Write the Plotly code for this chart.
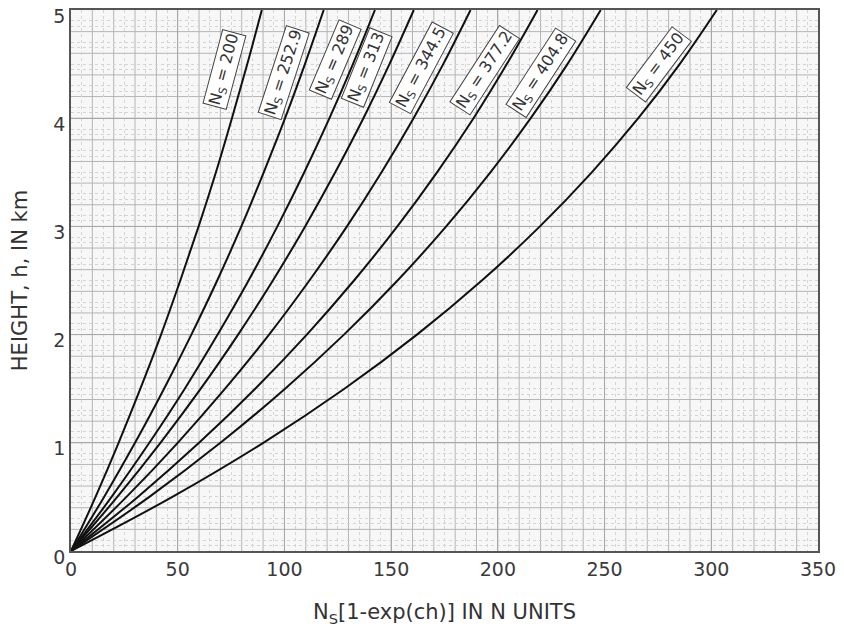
import plotly.graph_objects as go

# alturas (km) donde se leyeron las curvas
heights = [0, 0.5, 1, 1.5, 2, 2.5, 3, 3.5, 4, 4.5, 5]

ns_labels = ["200", "252.9", "289", "313", "344.5", "377.2", "404.8", "450"]
x_200 = [0, 11.5, 22.3, 32.5, 42.2, 51.2, 59.8, 67.9, 75.4, 82.6, 89.4]
x_2529 = [0, 15.5, 30.0, 43.6, 56.4, 68.5, 79.8, 90.3, 100.3, 109.6, 118.4]
x_289 = [0, 19.0, 36.7, 53.3, 68.7, 83.2, 96.7, 109.3, 121.1, 132.1, 142.4]
x_313 = [0, 21.7, 41.9, 60.8, 78.3, 94.6, 109.7, 123.8, 137.0, 149.2, 160.6]
x_3445 = [0, 26.0, 50.0, 72.2, 92.8, 111.7, 129.3, 145.5, 160.5, 174.4, 187.2]
x_3772 = [0, 31.3, 60.0, 86.3, 110.5, 132.6, 152.9, 171.5, 188.6, 204.2, 218.6]
x_4048 = [0, 36.7, 70.0, 100.3, 127.9, 153.0, 175.8, 196.5, 215.4, 232.6, 248.2]
x_450 = [0, 47.5, 90.1, 128.1, 162.1, 192.5, 219.7, 244.0, 265.8, 285.2, 302.6]
curves = [x_200, x_2529, x_289, x_313, x_3445, x_3772, x_4048, x_450]

# posicion y angulo de las etiquetas
label_x = [71.9, 99.8, 123.9, 138.5, 164.2, 193.8, 220.3, 275.3]
label_y = [4.45, 4.42, 4.54, 4.47, 4.47, 4.44, 4.42, 4.50]
label_angle = [-75, -72, -67, -68, -62, -57, -57, -53]

fig = go.Figure()
for xs in curves:
    fig.add_scatter(x=xs, y=heights, mode="lines", line_shape="spline",
                    line=dict(color="#111111", width=2), showlegend=False,
                    hoverinfo="skip")

for lab, lx, ly, ang in zip(ns_labels, label_x, label_y, label_angle):
    fig.add_annotation(x=lx, y=ly, text="N<sub>S</sub> = " + lab, showarrow=False,
                       textangle=ang, bgcolor="white", bordercolor="#444444",
                       borderwidth=1, borderpad=1,
                       font=dict(family="DejaVu Sans", size=16, color="#333333"))

axis_font = dict(family="DejaVu Sans", size=19, color="#3a3a3a")
title_font = dict(family="DejaVu Sans", size=21, color="#333333")
fig.update_xaxes(range=[0, 350], tickvals=[0, 50, 100, 150, 200, 250, 300, 350],
                 showgrid=True, gridcolor="#a8a8a8", gridwidth=1,
                 minor=dict(tickvals=list(range(5, 350, 10)), showgrid=True,
                            gridcolor="#d4d4d4", griddash="dot"),
                 showline=True, linecolor="#555555", linewidth=1.5, mirror=True,
                 zeroline=False, ticks="", tickfont=axis_font, automargin=False,
                 ticklabeloverflow="allow",
                 title=dict(text="N<sub>S</sub>[1-exp(ch)] IN N UNITS",
                            font=title_font, standoff=26))
fig.update_yaxes(range=[0, 5], tickvals=[0, 1, 2, 3, 4, 5],
                 showgrid=True, gridcolor="#a8a8a8", gridwidth=1,
                 minor=dict(tickvals=[i / 10 + 0.05 for i in range(0, 50, 2)] +
                            [i / 10 for i in range(1, 50, 2)],
                            showgrid=True, gridcolor="#d4d4d4", griddash="dot"),
                 showline=True, linecolor="#555555", linewidth=1.5, mirror=True,
                 zeroline=False, ticks="", tickfont=axis_font, automargin=False,
                 ticklabelshift=6, ticklabeloverflow="allow",
                 title=dict(text="HEIGHT, h, IN km", font=title_font, standoff=22))

# rejilla de papel milimetrado: lineas cada 10 unidades y 0.2 km
for gx in range(10, 350, 10):
    fig.add_vline(x=gx, line=dict(color="#b5b5b5", width=1), layer="below")
for k in range(1, 25):
    fig.add_hline(y=k * 0.2, line=dict(color="#b5b5b5", width=1), layer="below")

# la pagina tiene 8px de margen en el body
fig.update_layout(width=836, height=626, template="plotly_white",
                  paper_bgcolor="white", plot_bgcolor="#f7f7f7",
                  margin=dict(l=63, r=26, t=2, b=83))
fig.write_html("out.html")
